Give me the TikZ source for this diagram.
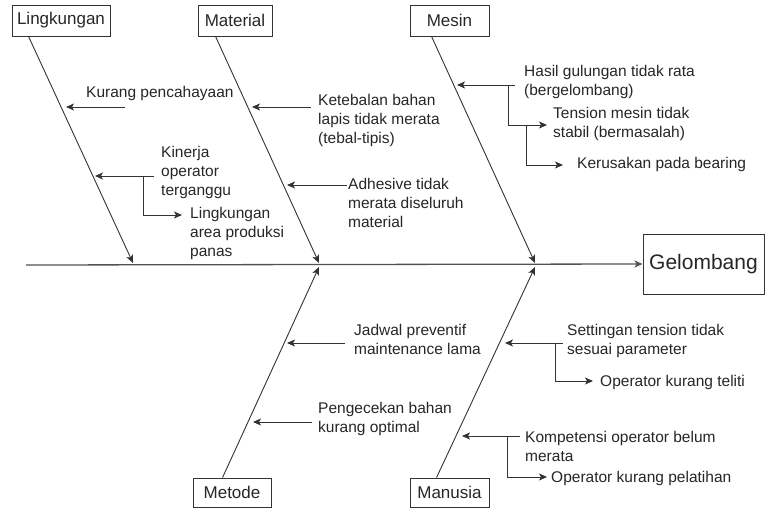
\documentclass[tikz,border=0pt]{standalone}
\usepackage{fontspec}
\setmainfont{Liberation Sans}
\usetikzlibrary{arrows.meta,calc}
\definecolor{ink}{HTML}{262626}
\definecolor{wire}{HTML}{333333}
\begin{document}
\begin{tikzpicture}[x=1pt,y=-1pt,
  box/.style={draw=wire,line width=0.9pt,inner sep=0pt,text=ink,font=\fontsize{17}{20}\selectfont},
  lbl/.style={anchor=base west,inner sep=0pt,align=left,text=ink,font=\fontsize{15.5}{19}\selectfont},
  tip/.style={-{Stealth[length=8pt,width=7pt,inset=2pt]}},
  bone/.style={draw=wire,line width=0.9pt,tip},
  arr/.style={draw=wire,line width=0.9pt,tip},
  spine/.style={draw=wire!85,line width=1.3pt,tip}
]
\useasboundingbox (0,0) rectangle (766,508);

% category boxes
\node[box,minimum width=98pt,minimum height=31pt] (ling) at (61,20.5) {Lingkungan};
\node[box,minimum width=74pt,minimum height=31pt] (mat) at (235,20.5) {Material};
\node[box,minimum width=79pt,minimum height=31pt] (mes) at (449.5,20.5) {Mesin};
\node[box,minimum width=78pt,minimum height=29pt] (met) at (232,492.5) {Metode};
\node[box,minimum width=79pt,minimum height=29pt] (man) at (449.5,492.5) {Manusia};
\node[box,minimum width=121pt,minimum height=60pt,font=\fontsize{21}{24}\selectfont] (gel) at (703.5,264) {Gelombang};

% spine
\coordinate (tail) at (26,265);
\draw[spine] (tail) -- (gel.west);

% bones
\coordinate (j1) at (133,263);
\coordinate (j2) at (319,263);
\coordinate (j3) at (535,263);
\coordinate (j4) at (319,267);
\coordinate (j5) at (535,267);
\draw[bone] ($(ling.south west)+(17,0)$) -- (j1);
\draw[bone] ($(mat.south west)+(18,0)$) -- (j2);
\draw[bone] ($(mes.south west)+(22,0)$) -- (j3);
\draw[bone] ($(met.north west)+(30,0)$) -- (j4);
\draw[bone] ($(man.north west)+(27,0)$) -- (j5);

% Lingkungan causes (node anchor = baseline of last line)
\node[lbl] (c1) at (86,98) {Kurang pencahayaan};
\coordinate (s1) at (125,107); \coordinate (e1) at (66,107);
\draw[arr] (s1) -- (e1);

\node[lbl] (c2) at (161,196) {Kinerja\\operator\\terganggu};
\coordinate (s2) at (154,176); \coordinate (e2) at (95,176);
\draw[arr] (s2) -- (e2);
\node[lbl] (c3) at (190,256) {Lingkungan\\area produksi\\panas};
\coordinate (k2) at (143,176); \coordinate (e3) at (182,215);
\draw[arr] (k2) |- (e3);

% Material causes
\node[lbl] (c4) at (318,144) {Ketebalan bahan\\lapis tidak merata\\(tebal-tipis)};
\coordinate (s4) at (311,107); \coordinate (e4) at (252,107);
\draw[arr] (s4) -- (e4);

\node[lbl] (c5) at (348,227) {Adhesive tidak\\merata diseluruh\\material};
\coordinate (s5) at (347,185); \coordinate (e5) at (287,185);
\draw[arr] (s5) -- (e5);

% Mesin causes
\node[lbl] (c6) at (524,96) {Hasil gulungan tidak rata\\(bergelombang)};
\coordinate (s6) at (515,85); \coordinate (e6) at (457,85);
\draw[arr] (s6) -- (e6);
\node[lbl] (c7) at (553,138) {Tension mesin tidak\\stabil (bermasalah)};
\coordinate (k6) at (508,85); \coordinate (e7) at (547,125);
\draw[arr] (k6) |- (e7);
\node[lbl] (c8) at (577,168) {Kerusakan pada bearing};
\coordinate (k7) at (526,126); \coordinate (e8) at (563,165);
\draw[arr] (k7) |- (e8);

% Metode causes
\node[lbl] (c9) at (354,354) {Jadwal preventif\\maintenance lama};
\coordinate (s9) at (345,343); \coordinate (e9) at (287,343);
\draw[arr] (s9) -- (e9);

\node[lbl] (c10) at (318,432) {Pengecekan bahan\\kurang optimal};
\coordinate (s10) at (312,422); \coordinate (e10) at (253,422);
\draw[arr] (s10) -- (e10);

% Manusia causes
\node[lbl] (c11) at (567,354) {Settingan tension tidak\\sesuai parameter};
\coordinate (s11) at (563,343); \coordinate (e11) at (505,343);
\draw[arr] (s11) -- (e11);
\node[lbl] (c12) at (600,386) {Operator kurang teliti};
\coordinate (k11) at (555,343); \coordinate (e12) at (593,381);
\draw[arr] (k11) |- (e12);

\node[lbl] (c13) at (525,461) {Kompetensi operator belum\\merata};
\coordinate (s13) at (520,436); \coordinate (e13) at (462,436);
\draw[arr] (s13) -- (e13);
\node[lbl] (c14) at (551,482) {Operator kurang pelatihan};
\coordinate (k13) at (507,436); \coordinate (e14) at (547,477);
\draw[arr] (k13) |- (e14);
\end{tikzpicture}
\end{document}
